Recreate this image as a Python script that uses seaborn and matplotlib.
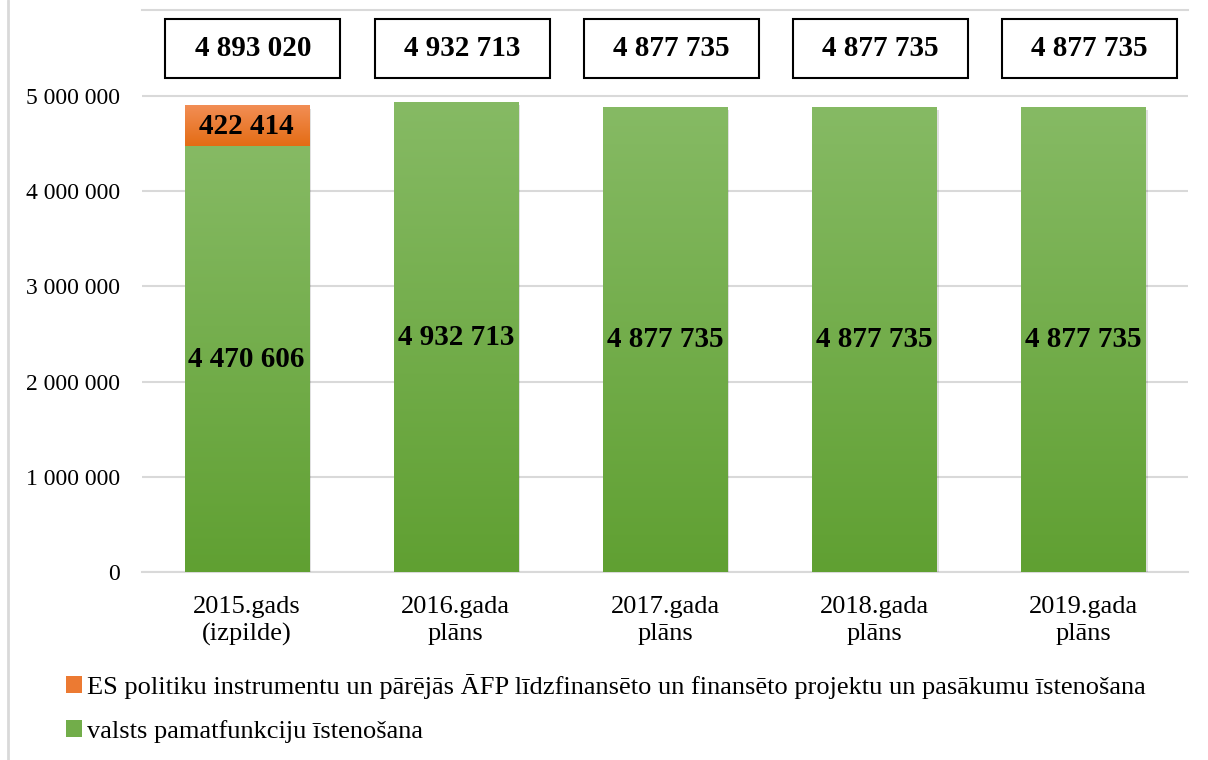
import numpy as np
import pandas as pd
import matplotlib.pyplot as plt
import seaborn as sns
from matplotlib.patches import Rectangle, Patch
from matplotlib.colors import LinearSegmentedColormap
from matplotlib.lines import Line2D

categories = ["2015.gads\n(izpilde)", "2016.gada\nplāns", "2017.gada\nplāns",
              "2018.gada\nplāns", "2019.gada\nplāns"]
valsts = [4470606, 4932713, 4877735, 4877735, 4877735]
es_proj = [422414, 0, 0, 0, 0]
totals = [4893020, 4932713, 4877735, 4877735, 4877735]
legend_labels = ["ES politiku instrumentu un pārējās ĀFP līdzfinansēto un finansēto projektu un pasākumu īstenošana",
                 "valsts pamatfunkciju īstenošana"]

GREEN_TOP, GREEN_BOT = "#86ba64", "#60a032"
ORANGE_TOP, ORANGE_BOT = "#f28e55", "#e46c14"
GRID = "#d9d9d9"


def fmt(v):
    return f"{v:,.0f}".replace(",", " ")


def gradient_fill(ax, x0, x1, y0, y1, top, bot, z):
    cmap = LinearSegmentedColormap.from_list("g", [bot, top])
    grad = np.linspace(0, 1, 256).reshape(-1, 1)
    ax.imshow(grad, cmap=cmap, origin="lower", aspect="auto",
              extent=(x0, x1, y0, y1), zorder=z, interpolation="bicubic")
    # soft shadow on right and bottom
    ax.add_patch(Rectangle((x0 + 0.012, y0 - 30000), x1 - x0, y1 - y0,
                           facecolor="#000000", alpha=0.12, lw=0, zorder=z - 0.5))


sns.set_style("white")
plt.rcParams["font.family"] = ["Liberation Serif", "DejaVu Serif"]
plt.rcParams["text.color"] = "black"
plt.rcParams["xtick.color"] = "black"
plt.rcParams["ytick.color"] = "black"

fig = plt.figure(figsize=(12.08, 7.6), dpi=100)
ax = fig.add_axes([0.1175, 0.2474, 0.8659, 0.7388])

df = pd.DataFrame({"cat": categories, "total": totals, "valsts": valsts})
sns.barplot(data=df, x="cat", y="total", color=ORANGE_BOT, width=0.593, ax=ax, zorder=2)
sns.barplot(data=df, x="cat", y="valsts", color=GREEN_BOT, width=0.593, ax=ax, zorder=2)

ymax = 5.898e6
n = len(categories)
for i, p in enumerate(ax.patches):
    x0, w = p.get_x(), p.get_width()
    p.set_visible(False)
    if i < n:
        if es_proj[i] > 0:
            gradient_fill(ax, x0, x0 + w, valsts[i], totals[i], ORANGE_TOP, ORANGE_BOT, 3)
    else:
        j = i - n
        gradient_fill(ax, x0, x0 + w, 0, valsts[j], GREEN_TOP, GREEN_BOT, 4)

ax.set_xlim(-0.5, n - 0.5)
ax.set_ylim(0, ymax)

# value labels
for i in range(n):
    ax.text(i, valsts[i] / 2, fmt(valsts[i]), ha="center", va="center",
            fontsize=21, fontweight="bold", zorder=6)
    if es_proj[i] > 0:
        ax.text(i, valsts[i] + es_proj[i] / 2, fmt(es_proj[i]), ha="center",
                va="center", fontsize=21, fontweight="bold", zorder=6)
    # total boxes
    ax.add_patch(Rectangle((i + 0.03 - 0.418, 5.19e6), 0.837, 0.62e6,
                           facecolor="white", edgecolor="black", lw=1.5, zorder=6))
    ax.text(i + 0.03, 5.5e6, fmt(totals[i]), ha="center", va="center",
            fontsize=21, fontweight="bold", zorder=7)

ax.set_yticks(np.arange(0, 5000001, 1000000))
ax.set_yticklabels([fmt(v) for v in ax.get_yticks()])
ax.yaxis.grid(True, color=GRID, lw=1.5, zorder=0)
ax.set_axisbelow(True)
ax.tick_params(axis="y", length=0, pad=16, labelsize=17)
ax.tick_params(axis="x", length=0, pad=17, labelsize=19)
for lbl in ax.get_xticklabels():
    lbl.set_linespacing(1.3)
ax.set_xlabel("")
ax.set_ylabel("")
for s in ["left", "right"]:
    ax.spines[s].set_visible(False)
for s in ["top", "bottom"]:
    ax.spines[s].set_color(GRID)
    ax.spines[s].set_linewidth(1.5)

handles = [Patch(facecolor="#ec7a32", edgecolor="none"),
           Patch(facecolor="#72ad4a", edgecolor="none")]
fig.legend(handles, legend_labels, loc="upper left", bbox_to_anchor=(0.046, 0.127),
           frameon=False, fontsize=19, handlelength=0.6, handleheight=0.6,
           handletextpad=0.2, labelspacing=0.8, borderaxespad=0)

# outer chart border (left edge visible in crop)
fig.add_artist(Line2D([8 / 1208, 8 / 1208], [0, 1], color=GRID, lw=2,
                      transform=fig.transFigure))

fig.savefig("out.png", dpi=100)
